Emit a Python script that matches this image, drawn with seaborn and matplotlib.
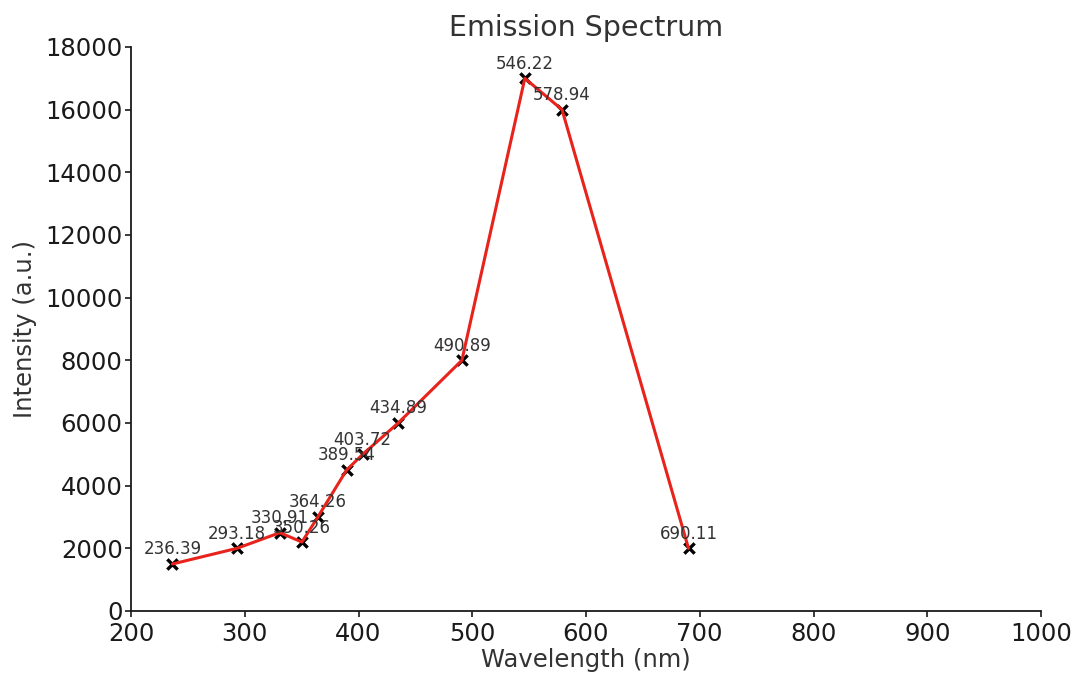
import matplotlib
matplotlib.use("Agg")
import matplotlib.pyplot as plt
import seaborn as sns
import pandas as pd

wavelengths = [236.39, 293.18, 330.91, 350.26, 364.26, 389.54, 403.72, 434.89, 490.89, 546.22, 578.94, 690.11]
intensities = [1500, 2000, 2500, 2200, 3000, 4500, 5000, 6000, 8000, 17000, 16000, 2000]
x_ticks = [200, 300, 400, 500, 600, 700, 800, 900, 1000]
y_ticks = [0, 2000, 4000, 6000, 8000, 10000, 12000, 14000, 16000, 18000]

df = pd.DataFrame({"Wavelength": wavelengths, "Intensity": intensities})

sns.set_style("ticks")
plt.rcParams['font.family'] = ['DejaVu Sans']

fig = plt.figure(figsize=(10.79, 6.79), dpi=100)
ax = fig.add_axes([131/1079, 1 - 611/679, (1041-131)/1079, (611-47)/679])

sns.lineplot(data=df, x="Wavelength", y="Intensity", ax=ax, color="#e8231c",
             linewidth=2.2, sort=False, zorder=3)
ax.scatter(df["Wavelength"], df["Intensity"], marker="x", color="black",
           s=55, linewidths=2.4, zorder=2)

for w, v in zip(wavelengths, intensities):
    ax.annotate(f"{w:.2f}", (w, v), xytext=(0, 4), textcoords="offset points",
                ha="center", va="bottom", fontsize=12, color="#333333")

ax.set_xlim(200, 1000)
ax.set_ylim(0, 18000)
ax.set_xticks(x_ticks)
ax.set_yticks(y_ticks)
ax.tick_params(axis="both", labelsize=17.5, colors="#1a1a1a", length=4, width=1.2,
               direction="out")
ax.tick_params(axis="y", pad=2)
ax.tick_params(axis="x", pad=4)
for s in ["left", "bottom"]:
    ax.spines[s].set_linewidth(1.3)
    ax.spines[s].set_color("#1a1a1a")
sns.despine(ax=ax)
ax.set_xlabel("Wavelength (nm)", fontsize=17.5, color="#333333", labelpad=1)
ax.set_ylabel("Intensity (a.u.)", fontsize=17.5, color="#333333", labelpad=6)
ax.set_title("Emission Spectrum", fontsize=20.5, color="#333333", pad=8)

fig.savefig("out.png", dpi=100)
